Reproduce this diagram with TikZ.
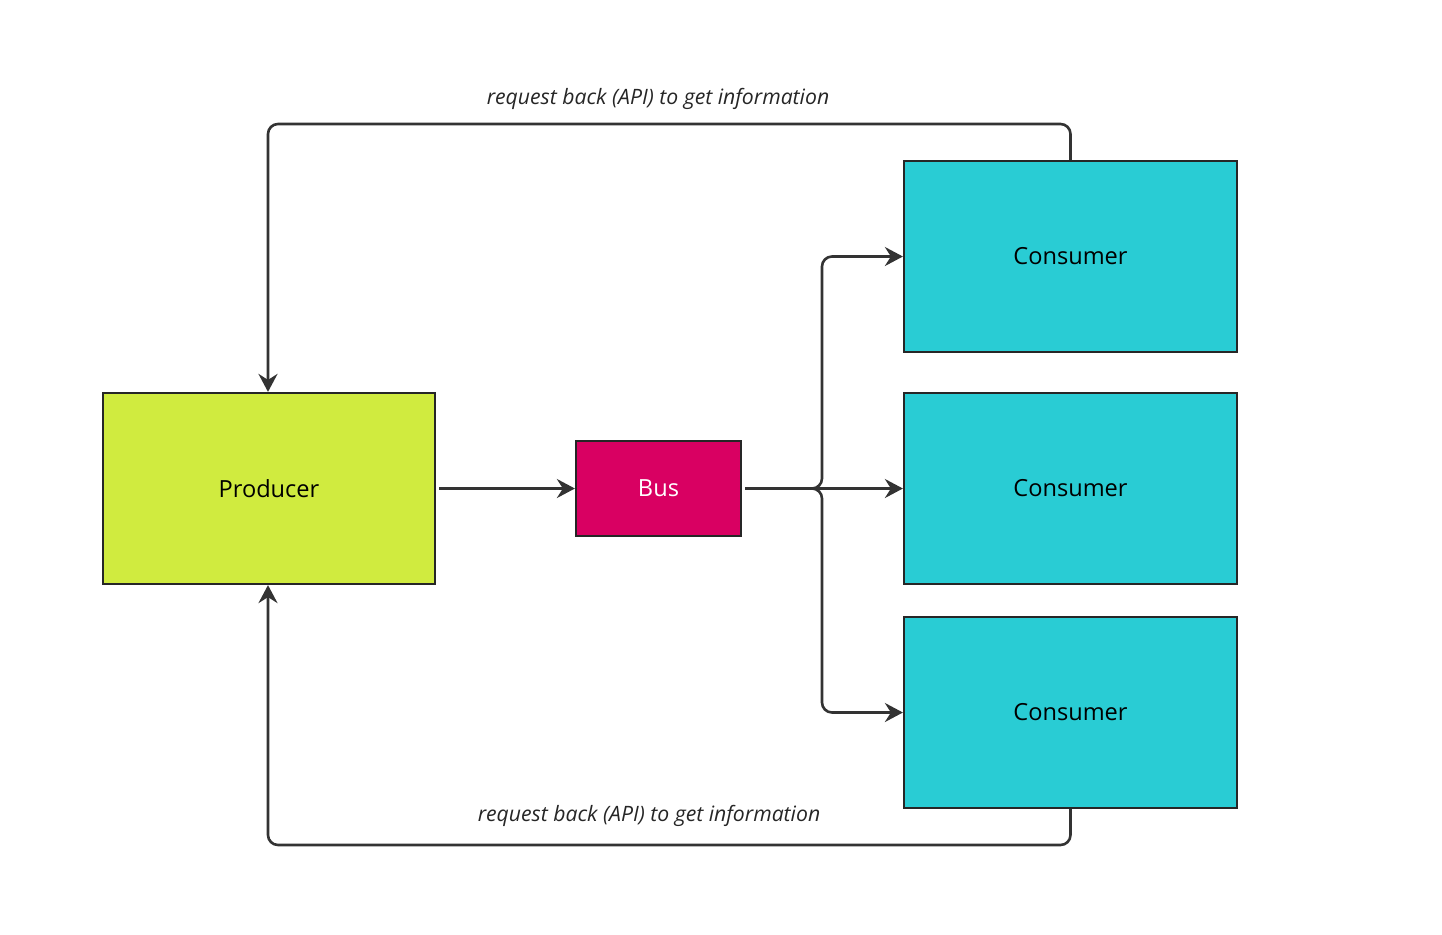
\documentclass[tikz,border=0pt]{standalone}
\usepackage{fontspec}
\setmainfont{Open Sans}
\usetikzlibrary{arrows.meta}

\definecolor{prodgreen}{HTML}{D0EB3F}
\definecolor{busred}{HTML}{D90062}
\definecolor{conscyan}{HTML}{29CCD4}
\definecolor{linegray}{HTML}{333333}

\begin{document}
\begin{tikzpicture}[x=0.5pt,y=-0.5pt]
	\tikzset{box/.style={draw=black!85,line width=1.1pt,inner sep=0pt,font=\fontsize{11.8}{13}\selectfont}}
	\tikzset{flow/.style={draw=linegray,line width=1.3pt,rounded corners=5pt,-{Stealth[length=9pt,width=9.5pt,inset=3pt]}}}
	\tikzset{note/.style={font=\fontsize{10.6}{12}\selectfont\itshape,text=black!85}}

	\useasboundingbox (0,0) rectangle (1442,934);

	    \node[box,fill=prodgreen,minimum width=332pt*0.5,minimum height=191pt*0.5] (producer) at (269,488.5) {Producer};
	    \node[box,fill=busred,text=white,minimum width=165pt*0.5,minimum height=95pt*0.5] (bus) at (658.5,488.5) {Bus};

	    \node[box,fill=conscyan,minimum width=333pt*0.5,minimum height=191pt*0.5] (c1) at (1070.5,256.5) {Consumer};
	    \node[box,fill=conscyan,minimum width=333pt*0.5,minimum height=191pt*0.5] (c2) at (1070.5,488.5) {Consumer};
	    \node[box,fill=conscyan,minimum width=333pt*0.5,minimum height=191pt*0.5] (c3) at (1070.5,712.5) {Consumer};

	    \coordinate (split) at (822,488.5);
	    \coordinate (top) at (268,124);
	    \coordinate (bottom) at (268,845);

	    \draw[flow] (producer.east) ++(3,0) -- (bus.west);
	    \draw[flow] (bus.east) ++(3,0) -- (split) |- (c1.west);
	    \draw[flow] (bus.east) ++(3,0) -- (c2.west);
	    \draw[flow] (bus.east) ++(3,0) -- (split) |- (c3.west);

	    \draw[flow] (c1.north) |- (top) -- (producer.north -| top);
	    \draw[flow] (c3.south) |- (bottom) -- (producer.south -| bottom);

	    \node[note] (req1) at (658,99) {request back (API) to get information};
	    \node[note] (req2) at (649,816) {request back (API) to get information};

\end{tikzpicture}
\end{document}
